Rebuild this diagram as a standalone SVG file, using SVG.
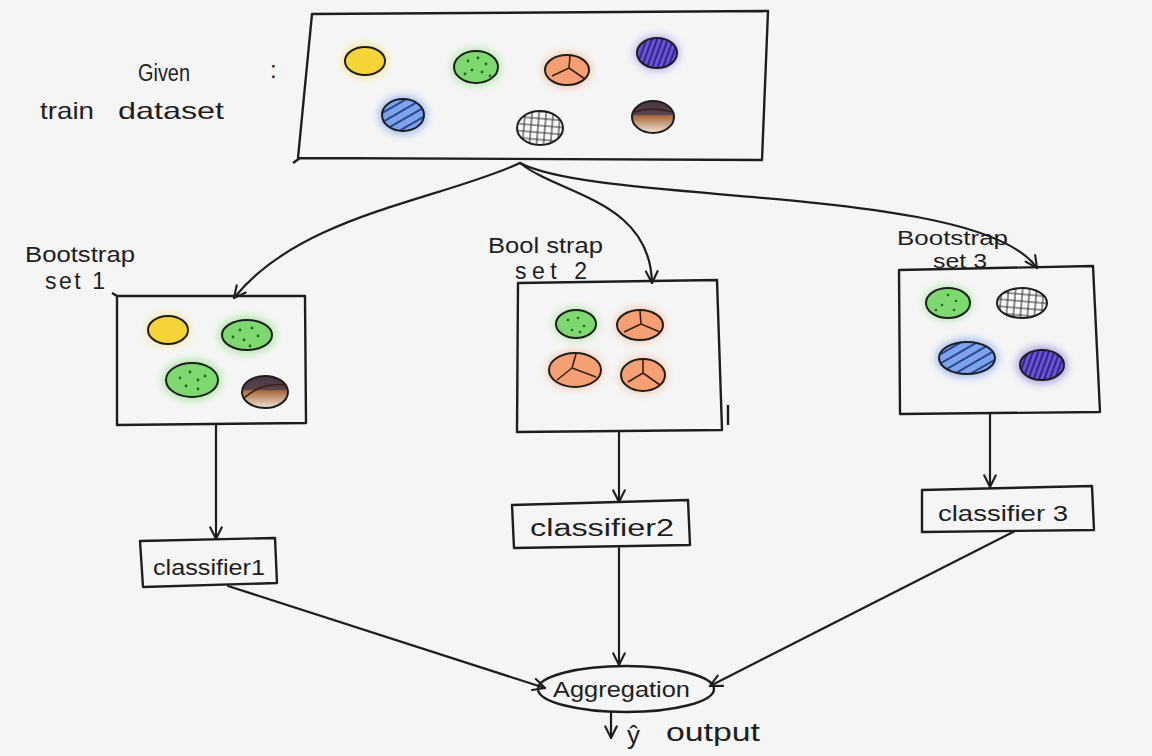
<svg xmlns="http://www.w3.org/2000/svg" width="1152" height="756" viewBox="0 0 1152 756">
<style>
.ln{fill:none;stroke:#1e1e1e;stroke-width:2.2;stroke-linejoin:round;stroke-linecap:round}
.bx{fill:none;stroke:#1e1e1e;stroke-width:2.4;stroke-linejoin:round}
.c{stroke:#1e1e1e;stroke-width:2}
.t{font-family:"Liberation Sans",Arial,sans-serif;fill:#1e1e1e;font-size:22px}
.dot{fill:#1f6a1f}
.y{stroke:#3a1e10;stroke-width:1.6;fill:none}
</style>
<defs>
<filter id="glow" x="-50%" y="-50%" width="200%" height="200%"><feGaussianBlur stdDeviation="4"/></filter>
<pattern id="purp" width="5" height="5" patternUnits="userSpaceOnUse" patternTransform="rotate(20)"><rect width="5" height="5" fill="#6a52d6"/><line x1="1" y1="0" x2="1" y2="5" stroke="#2a1870" stroke-width="1.6"/></pattern>
<pattern id="blue" width="8" height="8" patternUnits="userSpaceOnUse" patternTransform="rotate(60)"><rect width="8" height="8" fill="#7aa4ee"/><line x1="1" y1="0" x2="1" y2="8" stroke="#1c2c6a" stroke-width="1.6"/></pattern>
<pattern id="grid" width="7" height="7" patternUnits="userSpaceOnUse" patternTransform="rotate(5)"><rect width="7" height="7" fill="#fafafa"/><path d="M1,0V7M0,1H7" stroke="#333" stroke-width="1.1"/></pattern>
<linearGradient id="brown" x1="0" y1="0" x2="0" y2="1"><stop offset="0" stop-color="#4a3540"/><stop offset="0.42" stop-color="#5a4250"/><stop offset="0.46" stop-color="#a8683a"/><stop offset="1" stop-color="#f0e2d6"/></linearGradient>
<marker id="ah" viewBox="0 0 12 12" refX="11" refY="6" markerWidth="14" markerHeight="14" markerUnits="userSpaceOnUse" orient="auto"><path d="M1,1 L11,6 L1,11" fill="none" stroke="#1e1e1e" stroke-width="1.8" stroke-linecap="round"/></marker>
</defs>
<rect width="1152" height="756" fill="#f5f5f5"/>

<g id="dataset">
<path class="bx" d="M312,14 L768,11 L762,160 L298,158 Z M293,163 L300,158"/>
<text class="t" x="138" y="81" textLength="52" lengthAdjust="spacingAndGlyphs" style="font-size:23px">Given</text>
<text class="t" x="270" y="78" style="font-size:24px">:</text>
<text class="t" x="40" y="119" textLength="54" lengthAdjust="spacingAndGlyphs" style="font-size:24px">train</text>
<text class="t" x="118" y="119" textLength="106" lengthAdjust="spacingAndGlyphs" style="font-size:24px">dataset</text>
<ellipse cx="365" cy="61" rx="22" ry="16" fill="#f5d43a" filter="url(#glow)" opacity="0.6"/>
<ellipse class="c" cx="365" cy="61" rx="20" ry="14" fill="#f5d43a"/>
<ellipse cx="476" cy="67" rx="24" ry="18" fill="#6fd862" filter="url(#glow)" opacity="0.6"/>
<ellipse class="c" cx="476" cy="67" rx="22" ry="16" fill="#7ed870"/>
<g class="dot"><circle cx="468" cy="61" r="1.4"/><circle cx="478" cy="58" r="1.4"/><circle cx="486" cy="64" r="1.4"/><circle cx="472" cy="70" r="1.4"/><circle cx="482" cy="72" r="1.4"/><circle cx="465" cy="74" r="1.4"/><circle cx="490" cy="76" r="1.4"/></g>
<ellipse cx="567" cy="70" rx="24" ry="17" fill="#f59a66" filter="url(#glow)" opacity="0.6"/>
<ellipse class="c" cx="567" cy="70" rx="22" ry="15" fill="#f4a074"/>
<path class="y" d="M569,68 L570,56 M569,68 L552,76 M569,68 L585,79"/>
<ellipse cx="657" cy="53" rx="22" ry="17" fill="#6a52d6" filter="url(#glow)" opacity="0.5"/>
<ellipse class="c" cx="657" cy="53" rx="20" ry="15" fill="url(#purp)"/>
<ellipse cx="403" cy="115" rx="24" ry="19" fill="#5a8ae8" filter="url(#glow)" opacity="0.6"/>
<ellipse class="c" cx="403" cy="115" rx="21" ry="16" fill="url(#blue)"/>
<ellipse class="c" cx="540" cy="128" rx="23" ry="17" fill="url(#grid)"/>
<ellipse class="c" cx="653" cy="117" rx="21" ry="16" fill="url(#brown)"/>
<path class="y" d="M634,112 Q652,106 672,112" stroke="#2a1a1a"/>
</g>

<g id="bootstrap1">
<path class="bx" d="M117,296 L305,296 L306,423 L117,425 Z M112,293 L117,296"/>
<text class="t" x="25" y="262" textLength="110" lengthAdjust="spacingAndGlyphs">Bootstrap</text>
<text class="t" x="45" y="289" textLength="60" lengthAdjust="spacing" style="font-size:23px">set  1</text>
<ellipse cx="168" cy="330" rx="22" ry="16" fill="#f5d43a" filter="url(#glow)" opacity="0.5"/>
<ellipse class="c" cx="168" cy="330" rx="20" ry="14" fill="#f5d43a"/>
<ellipse cx="247" cy="335" rx="28" ry="18" fill="#6fd862" filter="url(#glow)" opacity="0.6"/>
<ellipse class="c" cx="247" cy="335" rx="25" ry="15" fill="#7ed870"/>
<g class="dot"><circle cx="240" cy="330" r="1.4"/><circle cx="252" cy="328" r="1.4"/><circle cx="258" cy="336" r="1.4"/><circle cx="244" cy="340" r="1.4"/><circle cx="233" cy="337" r="1.4"/><circle cx="250" cy="346" r="1.4"/></g>
<ellipse cx="192" cy="380" rx="29" ry="20" fill="#6fd862" filter="url(#glow)" opacity="0.6"/>
<ellipse class="c" cx="192" cy="380" rx="26" ry="17" fill="#7ed870"/>
<g class="dot"><circle cx="190" cy="372" r="1.4"/><circle cx="180" cy="378" r="1.4"/><circle cx="198" cy="380" r="1.4"/><circle cx="205" cy="376" r="1.4"/><circle cx="186" cy="386" r="1.4"/><circle cx="198" cy="389" r="1.4"/></g>
<ellipse class="c" cx="265" cy="392" rx="23" ry="16" fill="url(#brown)"/>
<path class="y" d="M244,398 Q262,382 286,385" stroke="#2a1a1a"/>
</g>

<g id="bootstrap2">
<path class="bx" d="M518,283 L717,280 L722,430 L517,432 Z M728,405 L728,425"/>
<text class="t" x="488" y="253" textLength="115" lengthAdjust="spacingAndGlyphs">Bool strap</text>
<text class="t" x="515" y="279" textLength="72" lengthAdjust="spacing" style="font-size:23px">set 2</text>
<ellipse cx="576" cy="324" rx="22" ry="16" fill="#6fd862" filter="url(#glow)" opacity="0.5"/>
<ellipse class="c" cx="576" cy="324" rx="20" ry="14" fill="#7ed870"/>
<g class="dot"><circle cx="568" cy="320" r="1.3"/><circle cx="578" cy="318" r="1.3"/><circle cx="584" cy="326" r="1.3"/><circle cx="572" cy="330" r="1.3"/><circle cx="580" cy="332" r="1.3"/></g>
<ellipse cx="640" cy="325" rx="25" ry="17" fill="#f59a66" filter="url(#glow)" opacity="0.5"/>
<ellipse class="c" cx="640" cy="325" rx="23" ry="15" fill="#f4a074"/>
<path class="y" d="M641,324 L640,311 M641,324 L624,332 M641,324 L660,332"/>
<ellipse cx="575" cy="370" rx="28" ry="19" fill="#f59a66" filter="url(#glow)" opacity="0.5"/>
<ellipse class="c" cx="575" cy="370" rx="26" ry="17" fill="#f4a074"/>
<path class="y" d="M572,368 L576,354 M572,368 L557,380 M572,368 L596,377"/>
<ellipse cx="643" cy="375" rx="24" ry="18" fill="#f59a66" filter="url(#glow)" opacity="0.5"/>
<ellipse class="c" cx="643" cy="375" rx="22" ry="16" fill="#f4a074"/>
<path class="y" d="M643,373 L643,360 M643,373 L628,382 M643,373 L660,385"/>
</g>

<g id="bootstrap3">
<path class="bx" d="M899,270 L1093,266 L1100,412 L900,414 Z"/>
<text class="t" x="897" y="245" textLength="111" lengthAdjust="spacingAndGlyphs" style="font-size:21px">Bootstrap</text>
<text class="t" x="933" y="268" textLength="54" lengthAdjust="spacingAndGlyphs" style="font-size:20px">set 3</text>
<ellipse cx="948" cy="303" rx="24" ry="17" fill="#6fd862" filter="url(#glow)" opacity="0.5"/>
<ellipse class="c" cx="948" cy="303" rx="22" ry="15" fill="#7ed870"/>
<g class="dot"><circle cx="948" cy="295" r="1.3"/><circle cx="956" cy="301" r="1.3"/><circle cx="942" cy="305" r="1.3"/><circle cx="954" cy="310" r="1.3"/><circle cx="936" cy="310" r="1.3"/></g>
<ellipse class="c" cx="1022" cy="303" rx="25" ry="15" fill="url(#grid)"/>
<ellipse cx="967" cy="358" rx="31" ry="19" fill="#5a8ae8" filter="url(#glow)" opacity="0.6"/>
<ellipse class="c" cx="967" cy="358" rx="28" ry="16" fill="url(#blue)"/>
<ellipse cx="1042" cy="365" rx="25" ry="18" fill="#6a52d6" filter="url(#glow)" opacity="0.6"/>
<ellipse class="c" cx="1042" cy="365" rx="22" ry="15" fill="url(#purp)"/>
</g>

<g id="classifier1">
<path class="bx" d="M140,541 L275,538 L277,583 L143,587 Z"/>
<text class="t" x="153" y="575" textLength="112" lengthAdjust="spacingAndGlyphs">classifier1</text>
</g>
<g id="classifier2">
<path class="bx" d="M512,505 L688,500 L690,545 L514,548 Z"/>
<text class="t" x="530" y="536" textLength="144" lengthAdjust="spacingAndGlyphs" style="font-size:23px">classifier2</text>
</g>
<g id="classifier3">
<path class="bx" d="M922,490 L1092,486 L1094,530 L922,532 Z"/>
<text class="t" x="938" y="521" textLength="130" lengthAdjust="spacingAndGlyphs">classifier 3</text>
</g>

<g id="aggregation">
<ellipse class="bx" cx="626" cy="689" rx="88" ry="23"/>
<text class="t" x="553" y="697" textLength="137" lengthAdjust="spacingAndGlyphs">Aggregation</text>
</g>
<g id="output">
<text class="t" x="627" y="744" style="font-size:26px">ŷ</text>
<text class="t" x="666" y="741" textLength="94" lengthAdjust="spacingAndGlyphs" style="font-size:25px">output</text>
</g>

<g id="connectors">
<path class="ln" marker-end="url(#ah)" d="M520,163 C440,200 300,215 234,298"/>
<path class="ln" marker-end="url(#ah)" d="M520,163 C560,195 650,200 652,283"/>
<path class="ln" marker-end="url(#ah)" d="M520,163 C600,205 980,185 1037,268"/>
<path class="ln" marker-end="url(#ah)" d="M216,424 L216,539"/>
<path class="ln" marker-end="url(#ah)" d="M619,432 L619,502"/>
<path class="ln" marker-end="url(#ah)" d="M990,413 L990,487"/>
<path class="ln" marker-end="url(#ah)" d="M228,586 L545,688"/>
<path class="ln" marker-end="url(#ah)" d="M619,548 L619,665"/>
<path class="ln" marker-end="url(#ah)" d="M1015,531 L710,686"/>
<path class="ln" marker-end="url(#ah)" d="M611,712 L611,738"/>
</g>
</svg>
